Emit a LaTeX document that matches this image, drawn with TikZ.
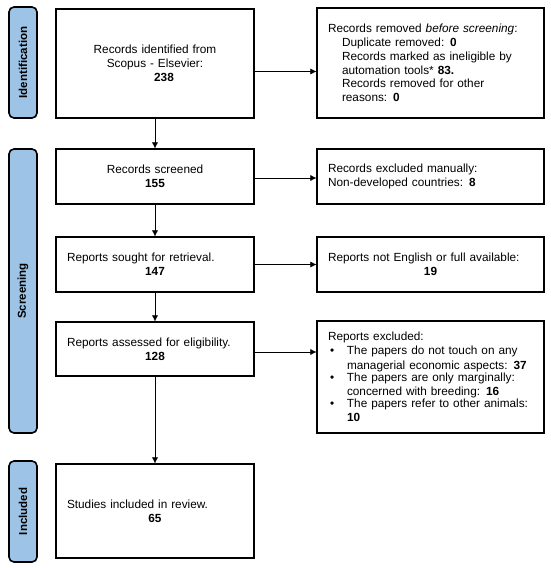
\documentclass[tikz,border=0pt]{standalone}
\usepackage{fontspec}
\setmainfont{Liberation Sans}
\usetikzlibrary{arrows.meta}
\definecolor{stageblue}{RGB}{157,195,230}
\newcommand{\lline}[1]{\makebox[176pt][l]{#1}}
\newcommand{\rmid}[1]{\makebox[205pt]{#1}}
\newcommand{\bitem}[1]{\par\noindent\makebox[19pt][l]{\hspace{2pt}\textbullet}\parbox[t]{186pt}{\raggedright #1}}

\begin{document}
\begin{tikzpicture}[x=1pt, y=-1pt, >={Latex[length=6pt,width=6pt]},
    box/.style={draw, line width=1.3pt, inner xsep=11pt, inner ysep=0pt,
        font=\fontsize{11.8}{13.8}\selectfont},
    leftbox/.style={box, text width=176pt, minimum height=#1, align=center},
    rightbox/.style={box, text width=205pt, minimum height=#1, align=left},
    stage/.style={draw, line width=1.6pt, fill=stageblue, rounded corners=5pt,
        rotate=90, minimum width=#1, minimum height=28pt, inner sep=0pt,
        font=\fontsize{11.5}{13}\selectfont\bfseries}]
    \useasboundingbox (0,0) rectangle (550,568);

    \node[stage=111pt] (ident) at (23,62.5) {Identification};
    \node[stage=284pt] (screen) at (23,291) {Screening};
    \node[stage=101pt] (incl) at (23,511.5) {Included};

    \node[leftbox=109pt] (found) at (155,63.5) {Records identified from\\ Scopus - Elsevier:\\ \hspace*{18pt}\textbf{238}};
    \node[leftbox=55pt] (screened) at (155,176.5) {Records screened\\ \textbf{155}};
    \node[leftbox=55pt] (sought) at (155,264.5) {\lline{Reports sought for retrieval.}\\ \textbf{147}};
    \node[leftbox=54pt] (assessed) at (155,349) {\lline{Reports assessed for eligibility.}\\ \textbf{128}};
    \node[leftbox=94pt] (studies) at (155,511) {\lline{Studies included in review.}\\ \textbf{65}};

    \node[rightbox=110pt] (removed) at (430.5,63) {Records removed \textit{before screening}:\\
        \hspace*{14pt}Duplicate removed: \textbf{0}\\
        \hspace*{14pt}Records marked as ineligible by\\
        \hspace*{14pt}automation tools* \textbf{83.}\\
        \hspace*{14pt}Records removed for other\\
        \hspace*{14pt}reasons: \textbf{0}};
    \node[rightbox=55pt] (manual) at (430.5,176.5) {Records excluded manually:\\ Non-developed countries: \textbf{8}};
    \node[rightbox=55pt] (english) at (430.5,264.5) {Reports not English or full available:\\ \rmid{\textbf{19}}};
    \node[rightbox=112pt, font=\fontsize{11.8}{14.3}\selectfont] (excluded) at (430.5,377) {Reports excluded:
        \bitem{The papers do not touch on any\\ managerial economic aspects: \textbf{37}}
        \bitem{The papers are only marginally:\\ concerned with breeding: \textbf{16}}
        \bitem{The papers refer to other animals:\\ \textbf{10}}};

    \draw[->] (found) -- (screened);
    \draw[->] (screened) -- (sought);
    \draw[->] (sought) -- (assessed);
    \draw[->] (assessed) -- (studies);

    \draw[->] ([yshift=-8pt]found.east) -- ([yshift=-8pt]found.east -| removed.west);
    \draw[->] ([yshift=-1.5pt]screened.east) -- ([yshift=-1.5pt]screened.east -| manual.west);
    \draw[->] (sought.east) -- (sought.east -| english.west);
    \draw[->] ([yshift=-3pt]assessed.east) -- ([yshift=-3pt]assessed.east -| excluded.west);
\end{tikzpicture}
\end{document}
